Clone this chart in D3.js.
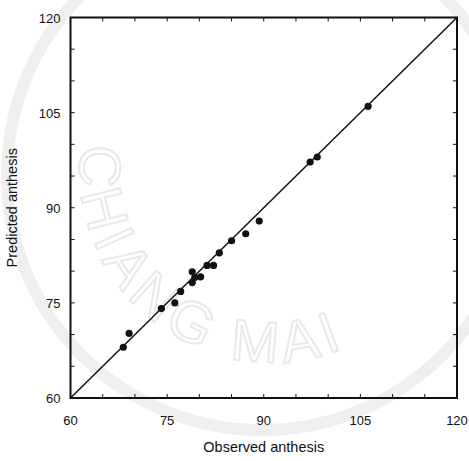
<!DOCTYPE html>
<html>
<head>
<meta charset="utf-8">
<script src="https://cdn.jsdelivr.net/npm/d3@7"></script>
<style>
  html, body { margin: 0; padding: 0; background: #fff; }
  svg { display: block; }
  text { font-family: "Liberation Sans", Arial, Helvetica, sans-serif; fill: #111; }
</style>
</head>
<body>
<svg id="chart" width="469" height="461"></svg>
<script>
// Observed vs predicted days to anthesis
const observed  = [68.2, 69.1, 74.1, 76.2, 77.1, 78.9, 79.3, 78.9, 80.2, 81.2, 82.2, 83.1, 85.0, 87.2, 89.3, 97.2, 98.3, 106.2];
const predicted = [68.0, 70.2, 74.1, 75.0, 76.8, 79.9, 79.0, 78.2, 79.1, 80.9, 80.9, 82.9, 84.8, 85.9, 87.9, 97.2, 98.0, 106.0];
const tickValues = [60, 75, 90, 105, 120];
const minorTicks = [60, 65, 70, 75, 80, 85, 90, 95, 100, 105, 110, 115, 120];
const domain = [60, 120];
const xTitle = "Observed anthesis";
const yTitle = "Predicted anthesis";

const svg = d3.select("#chart");
const plot = { left: 70.5, right: 457, top: 17.5, bottom: 398 };

// Faint background seal
const wm = svg.append("g");
wm.append("circle").attr("cx", 262).attr("cy", 175).attr("r", 255)
  .attr("fill", "none").attr("stroke", "#efefef").attr("stroke-width", 12);
const arcPath = d3.path();
arcPath.arc(272, 170, 192, Math.PI * 1.06, Math.PI * 0.12, true);
wm.append("path").attr("id", "wmArc").attr("d", arcPath.toString()).attr("fill", "none");
wm.append("text")
  .attr("font-family", "'Liberation Serif', 'DejaVu Serif', serif")
  .attr("font-size", 58)
  .style("fill", "none")
  .attr("stroke", "#e8e8e8")
  .attr("stroke-width", 2)
  .attr("letter-spacing", 6)
  .append("textPath")
  .attr("href", "#wmArc")
  .attr("startOffset", "2%")
  .text("CHIANG MAI");

const x = d3.scaleLinear().domain(domain).range([plot.left, plot.right]);
const y = d3.scaleLinear().domain(domain).range([plot.bottom, plot.top]);

// Inward minor ticks
const tg = svg.append("g").attr("stroke", "#111").attr("stroke-width", 1);
minorTicks.forEach(v => {
  tg.append("line").attr("x1", x(v)).attr("x2", x(v)).attr("y1", plot.bottom).attr("y2", plot.bottom - 4);
  tg.append("line").attr("x1", x(v)).attr("x2", x(v)).attr("y1", plot.top).attr("y2", plot.top + 4);
  tg.append("line").attr("y1", y(v)).attr("y2", y(v)).attr("x1", plot.left).attr("x2", plot.left + 4);
  tg.append("line").attr("y1", y(v)).attr("y2", y(v)).attr("x1", plot.right).attr("x2", plot.right - 4);
});

// Frame
svg.append("rect")
  .attr("x", plot.left).attr("y", plot.top)
  .attr("width", plot.right - plot.left).attr("height", plot.bottom - plot.top)
  .attr("fill", "none").attr("stroke", "#111").attr("stroke-width", 2);

// 1:1 line
svg.append("line")
  .attr("x1", x(domain[0])).attr("y1", y(domain[0]))
  .attr("x2", x(domain[1])).attr("y2", y(domain[1]))
  .attr("stroke", "#111").attr("stroke-width", 1.5);

// Points
svg.append("g").selectAll("circle")
  .data(observed.map((o, i) => [o, predicted[i]]))
  .join("circle")
  .attr("cx", d => x(d[0])).attr("cy", d => y(d[1]))
  .attr("r", 3.6).attr("fill", "#111");

// Tick labels
svg.append("g").selectAll("text").data(tickValues).join("text")
  .attr("x", d => x(d)).attr("y", plot.bottom + 27)
  .attr("text-anchor", "middle").attr("font-size", 13)
  .text(d => d);
svg.append("g").selectAll("text").data(tickValues).join("text")
  .attr("x", plot.left - 10).attr("y", d => y(d) + 5)
  .attr("text-anchor", "end").attr("font-size", 13)
  .text(d => d);

// Axis titles
svg.append("text")
  .attr("x", (plot.left + plot.right) / 2).attr("y", 452)
  .attr("text-anchor", "middle").attr("font-size", 14.5)
  .text(xTitle);
svg.append("text")
  .attr("transform", `translate(17, ${(plot.top + plot.bottom) / 2}) rotate(-90)`)
  .attr("text-anchor", "middle").attr("font-size", 14.5)
  .text(yTitle);
</script>
</body>
</html>
